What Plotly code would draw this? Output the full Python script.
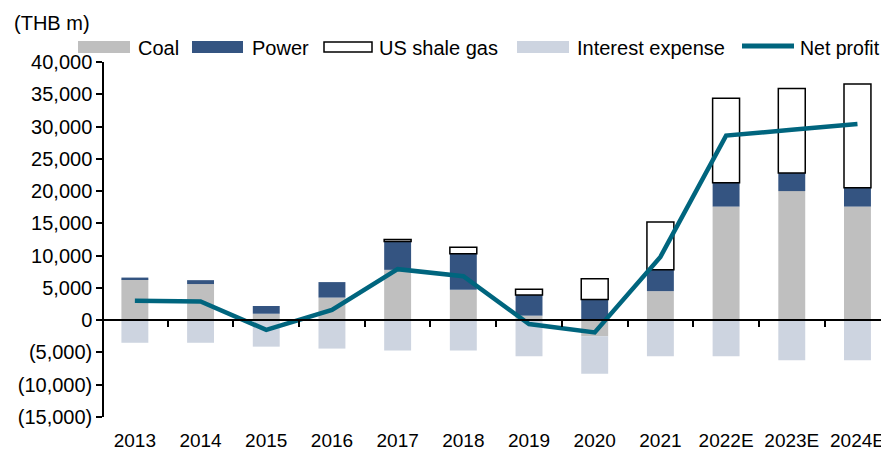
import plotly.graph_objects as go

years = ["2013", "2014", "2015", "2016", "2017", "2018", "2019", "2020", "2021", "2022E", "2023E", "2024E"]
coal = [6300, 5600, 1000, 3500, 7800, 4700, 700, -2500, 4500, 17600, 20000, 17600]
power = [300, 600, 1200, 2400, 4400, 5600, 3200, 3200, 3300, 3700, 2800, 2900]
shale = [None, None, None, None, 300, 1000, 900, 3200, 7400, 13100, 13100, 16100]
interest = [-3500, -3500, -4100, -4400, -4700, -4700, -5600, -5800, -5600, -5600, -6200, -6200]
net_profit = [3000, 2900, -1500, 1600, 7900, 6800, -600, -1900, 9800, 28600, 29500, 30400]

series_names = ["Coal", "Power", "US shale gas", "Interest expense", "Net profit"]
y_ticks = [-15000, -10000, -5000, 0, 5000, 10000, 15000, 20000, 25000, 30000, 35000, 40000]
y_ticktext = [f"({abs(v):,})" if v < 0 else f"{v:,}" for v in y_ticks]

C_COAL = "#BFBFBF"
C_POWER = "#345481"
C_INT = "#CDD4E0"
C_NP = "#00657E"
FONT = "Liberation Sans, Arial, sans-serif"

OFF = 8  # page body margin offset
W, H = 889 - OFF, 453 - OFF
L, R, T, B = 104 - OFF, 0, 62 - OFF, 36


def px(x):
    return (x - OFF - L) / (W - L - R)


def py(y):
    return (H - B - (y - OFF)) / (H - T - B)


fig = go.Figure()
bw = 0.41
fig.add_trace(go.Bar(x=years, y=coal, name=series_names[0], marker=dict(color=C_COAL, line=dict(width=0)), width=bw, showlegend=False))
fig.add_trace(go.Bar(x=years, y=power, name=series_names[1], marker=dict(color=C_POWER, line=dict(width=0)), width=bw, showlegend=False))
fig.add_trace(go.Bar(x=years, y=shale, name=series_names[2], marker=dict(color="white", line=dict(color="black", width=1.5)), width=bw, showlegend=False))
fig.add_trace(go.Bar(x=years, y=interest, name=series_names[3], marker=dict(color=C_INT, line=dict(width=0)), width=bw, showlegend=False))
fig.add_trace(go.Scatter(x=years, y=net_profit, name=series_names[4], mode="lines", line=dict(color=C_NP, width=4.5), showlegend=False))

xr = [-0.47, 11.48]
yr = [-15000, 40000]

fig.update_layout(
    width=W, height=H,
    margin=dict(l=L, r=R, t=T, b=B, pad=0),
    paper_bgcolor="white", plot_bgcolor="white",
    barmode="relative",
    font=dict(family=FONT, size=20, color="black"),
    showlegend=False,
    xaxis=dict(type="category", range=xr, showline=False, ticks="", showgrid=False, zeroline=False,
               tickfont=dict(size=19), ticklabelstandoff=10),
    xaxis2=dict(type="linear", overlaying="x", anchor="free", position=(0 - yr[0]) / (yr[1] - yr[0]),
                range=xr, showline=True, linecolor="black", linewidth=1.5, ticks="outside", ticklen=6,
                tickcolor="black", tickwidth=1.5, tickvals=[i + 0.5 for i in range(11)],
                showticklabels=False, showgrid=False, zeroline=False),
    yaxis=dict(range=yr, tickvals=y_ticks, ticktext=y_ticktext, showline=True, linecolor="black", linewidth=1.5,
               ticks="outside", ticklen=6, tickcolor="black", tickwidth=1.5, showgrid=False, zeroline=False,
               tickfont=dict(size=20)),
)

fig.add_trace(go.Scatter(x=[0], y=[0], xaxis="x2", mode="markers", marker=dict(opacity=0), hoverinfo="skip", showlegend=False))

fig.add_annotation(text="(THB m)", xref="paper", yref="paper", x=px(12), y=py(23), xanchor="left", yanchor="middle",
                   showarrow=False, font=dict(size=20))

legend_items = [
    (series_names[0], 78, 130, dict(type="rect", fillcolor=C_COAL, line=dict(width=0)), 136),
    (series_names[1], 192, 243, dict(type="rect", fillcolor=C_POWER, line=dict(width=0)), 250),
    (series_names[2], 324, 372, dict(type="rect", fillcolor="white", line=dict(color="black", width=1.5)), 377),
    (series_names[3], 517, 569, dict(type="rect", fillcolor=C_INT, line=dict(width=0)), 575),
]
for name, x0, x1, style, tx in legend_items:
    if style["line"].get("width", 0) > 0:
        fig.add_shape(xref="paper", yref="paper", x0=px(x0), x1=px(x1), y0=py(52), y1=py(42), **style)
    else:
        fig.add_shape(xref="paper", yref="paper", x0=px(x0), x1=px(x1), y0=py(53), y1=py(41), **style)
    fig.add_annotation(text=name, xref="paper", yref="paper", x=px(tx), y=py(48), xanchor="left", yanchor="middle",
                       showarrow=False, font=dict(size=20))
fig.add_shape(type="line", xref="paper", yref="paper", x0=px(742), x1=px(794), y0=py(46), y1=py(46),
              line=dict(color=C_NP, width=5))
fig.add_annotation(text=series_names[4], xref="paper", yref="paper", x=px(798), y=py(48), xanchor="left",
                   yanchor="middle", showarrow=False, font=dict(size=19.5))

fig.write_html("out.html")
